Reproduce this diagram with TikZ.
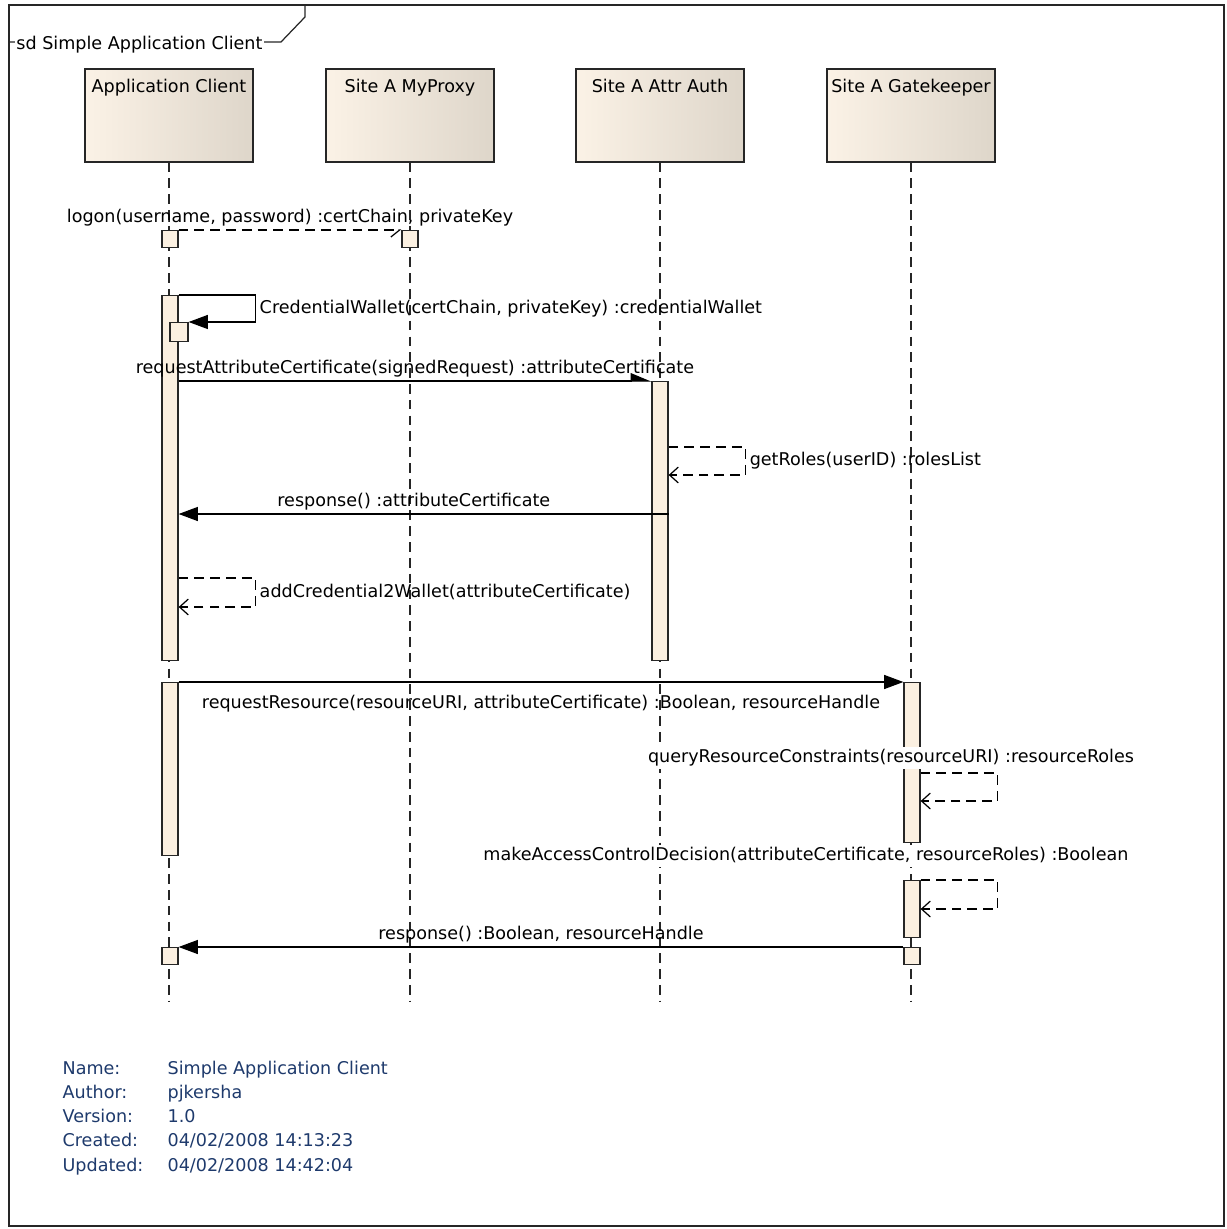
\documentclass[tikz,border=0pt]{standalone}
\usepackage{fontspec}
\newfontfamily\eafont{DejaVu Sans}
\usetikzlibrary{arrows.meta}
\usepackage{xcolor}

\definecolor{barfill}{RGB}{251,240,225}
\definecolor{headlight}{RGB}{251,242,230}
\definecolor{headmid}{RGB}{246,236,222}
\definecolor{headdark}{RGB}{222,214,202}
\definecolor{infoblue}{RGB}{30,58,108}

\begin{document}
\begin{tikzpicture}[
    x=0.02cm, y=-0.02cm,
    font=\eafont\fontsize{10}{12}\selectfont,
    line width=0.7pt,
    head/.style={
      rectangle, draw=black!85,
      left color=headlight, middle color=headmid, right color=headdark,
      minimum width=3.36cm, minimum height=1.86cm,
      inner sep=0pt
    },
    bar/.style={rectangle, draw=black!85, fill=barfill, minimum width=0.32cm, inner sep=0pt, anchor=north},
    lifeline/.style={draw=black!85, dash pattern=on 5.5pt off 3.5pt},
    call/.style={-{Triangle[length=11pt, width=8pt]}, draw=black},
    reply/.style={-{Straight Barb[length=5pt, width=9pt]}, draw=black, dash pattern=on 5.5pt off 3.5pt},
    msg/.style={inner sep=2pt, text height=1.6ex, text depth=0.4ex},
    info/.style={anchor=west, text=infoblue, inner sep=0pt, text height=1.6ex, text depth=0.4ex}
  ]
    \useasboundingbox (0,0) rectangle (1226,1229);

    \draw[draw=black!85] (9,5) rectangle (1224,1226);
    \draw[draw=black!85] (9,42) -- (281,42) -- (305,17) -- (305,5);
    \node[anchor=west, fill=white, inner sep=1pt] (title) at (14,45) {sd Simple Application Client};

    \node[head, label={[anchor=north, inner sep=6pt]north:Application Client}] (client) at (169,115.5) {};
    \node[head, label={[anchor=north, inner sep=6pt]north:Site A MyProxy}] (proxy) at (410,115.5) {};
    \node[head, label={[anchor=north, inner sep=6pt]north:Site A Attr Auth}] (auth) at (660,115.5) {};
    \node[head, label={[anchor=north, inner sep=6pt]north:Site A Gatekeeper}] (gate) at (911,115.5) {};

    \coordinate (lend) at (0,1002);
    \draw[lifeline] (client.south) -- (client.south |- lend);
    \draw[lifeline] (proxy.south) -- (proxy.south |- lend);
    \draw[lifeline] (auth.south) -- (auth.south |- lend);
    \draw[lifeline] (gate.south) -- (gate.south |- lend);

    \node[bar, minimum height=0.34cm] (clientLogon) at (170,230) {};
    \node[bar, minimum height=0.34cm] (proxyLogon) at (410,230) {};
    \node[bar, minimum height=7.3cm] (clientA) at (170,295) {};
    \node[bar, minimum width=0.36cm, minimum height=0.38cm] (clientWallet) at (179,322) {};
    \node[bar, minimum height=5.58cm] (authA) at (660,381) {};
    \node[bar, minimum height=3.46cm] (clientB) at (170,682) {};
    \node[bar, minimum height=3.2cm] (gateA) at (912,682) {};
    \node[bar, minimum height=1.14cm] (gateB) at (912,880) {};
    \node[bar, minimum height=0.34cm] (clientEnd) at (170,947) {};
    \node[bar, minimum height=0.34cm] (gateEnd) at (912,947) {};

    \draw[reply, -{Straight Barb[right, length=5pt, width=8pt]}] (clientLogon.north east) -- (proxyLogon.north west)
      node[msg, midway, above] (logonLbl) {logon(username, password) :certChain, privateKey};
    \draw[call] (clientA.north east) -- ++(77,0) |- (clientWallet.north east)
      node[msg, pos=0.25, right] (walletLbl) {CredentialWallet(certChain, privateKey) :credentialWallet};
    \draw[call, -{Triangle[left, length=11pt, width=9pt]}] (clientA.east |- authA.north) -- (authA.north west)
      node[msg, midway, above] (requestLbl) {requestAttributeCertificate(signedRequest) :attributeCertificate};
    \draw[reply] (authA.east |- 0,447) -- ++(77,0) |- (authA.east |- 0,475)
      node[msg, pos=0.25, right] (rolesLbl) {getRoles(userID) :rolesList};
    \draw[call] (authA.east |- 0,514) -- (clientA.east |- 0,514)
      node[msg, pos=0.52, above] (responseLbl) {response() :attributeCertificate};
    \draw[reply] (clientA.east |- 0,578) -- ++(77,0) |- (clientA.east |- 0,607)
      node[msg, pos=0.25, right] (addLbl) {addCredential2Wallet(attributeCertificate)};
    \draw[call] (clientB.north east) -- (gateA.north west)
      node[msg, midway, below=6pt] (resourceLbl) {requestResource(resourceURI, attributeCertificate) :Boolean, resourceHandle};
    \node[msg, fill=white] (queryLbl) at (891,758) {queryResourceConstraints(resourceURI) :resourceRoles};
    \draw[reply] (gateA.east |- 0,773) -- ++(77,0) |- (gateA.east |- 0,801);
    \node[msg, fill=white] (decisionLbl) at (806,856) {makeAccessControlDecision(attributeCertificate, resourceRoles) :Boolean};
    \draw[reply] (gateB.north east) -- ++(77,0) |- (gateB.east |- 0,909);
    \draw[call] (gateEnd.north west) -- (clientEnd.north east)
      node[msg, midway, above] (finalLbl) {response() :Boolean, resourceHandle};

    \node[info] (nameKey) at (62,1070) {Name:};
    \node[info] (nameVal) at (167,1070) {Simple Application Client};
    \node[info] (authorKey) at (62,1094) {Author:};
    \node[info] (authorVal) at (167,1094) {pjkersha};
    \node[info] (versionKey) at (62,1118) {Version:};
    \node[info] (versionVal) at (167,1118) {1.0};
    \node[info] (createdKey) at (62,1142) {Created:};
    \node[info] (createdVal) at (167,1142) {04/02/2008 14:13:23};
    \node[info] (updatedKey) at (62,1167) {Updated:};
    \node[info] (updatedVal) at (167,1167) {04/02/2008 14:42:04};
  \end{tikzpicture}
\end{document}
